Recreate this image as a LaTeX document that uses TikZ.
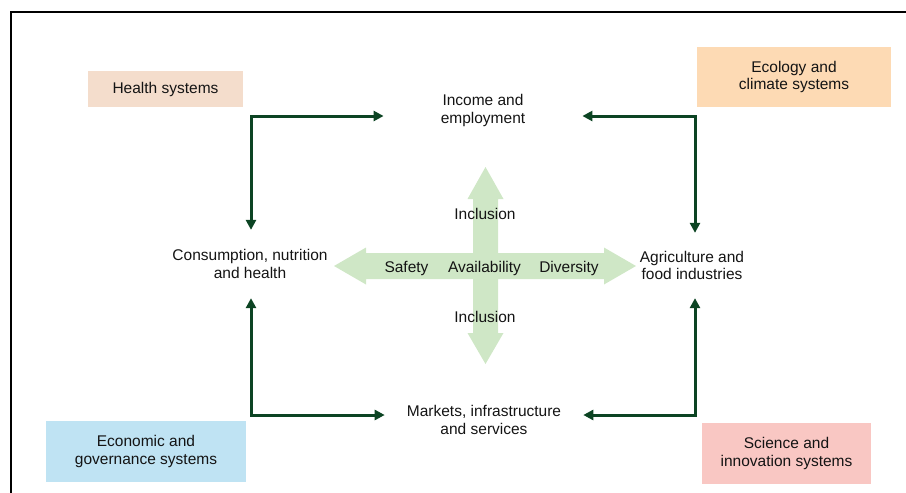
\documentclass[tikz,border=0pt]{standalone}
\usepackage{fontspec}
\setmainfont{Liberation Sans}
\usetikzlibrary{arrows.meta}

\definecolor{flowgreen}{HTML}{0C4423}
\definecolor{crossgreen}{HTML}{CFE7C6}
\definecolor{healthfill}{HTML}{F4DDCC}
\definecolor{ecofill}{HTML}{FDDAB4}
\definecolor{econfill}{HTML}{BFE3F3}
\definecolor{scifill}{HTML}{F9C7C3}
\definecolor{ink}{HTML}{141414}

\begin{document}
\begin{tikzpicture}
  [x=1pt,y=-1pt,
   every node/.style={font=\fontsize{15.5}{17.5}\selectfont,text=ink,align=center},
   sysbox/.style={inner sep=0pt},
   lbl/.style={anchor=base},
   flow/.style={draw=flowgreen,line width=3pt,line join=miter,
     {Triangle[length=10pt,width=10pt]}-{Triangle[length=10pt,width=10pt]}}]
  \useasboundingbox (0,0) rectangle (906,493);

  % frame
  \draw[line width=2.7pt] (11,493) -- (11,12) -- (906,12);

  % outer systems
  \node[sysbox,fill=healthfill,minimum width=155pt,minimum height=36pt] (H_sys) at (165.5,89) {Health systems};
  \node[sysbox,fill=ecofill,minimum width=194pt,minimum height=60pt] (E_sys) at (794,77) {Ecology and\\climate systems};
  \node[sysbox,fill=econfill,minimum width=200pt,minimum height=61pt] (G_sys) at (146,451.5) {Economic and\\governance systems};
  \node[sysbox,fill=scifill,minimum width=169pt,minimum height=61pt] (S_sys) at (786.5,453.5) {Science and\\innovation systems};

  % food system drivers
  \node[inner xsep=57pt] (income) at (483,110.5) {Income and\\employment};
  \node[inner ysep=19.5pt] (cons) at (250,264) {Consumption, nutrition\\and health};
  \node[inner ysep=18pt] (agri) at (692,265.5) {Agriculture and\\food industries};
  \node[inner xsep=22pt] (markets) at (484,420) {Markets, infrastructure\\and services};

  % central cross
  \fill[crossgreen] (334,266) -- (366,247.5) -- (366,253) -- (473,253) -- (473,199)
    -- (467.5,199) -- (485.5,167) -- (503.5,199) -- (498,199) -- (498,253)
    -- (604,253) -- (604,247.5) -- (636,266) -- (604,284.5) -- (604,279)
    -- (498,279) -- (498,333) -- (503.5,333) -- (485.5,364) -- (467.5,333)
    -- (473,333) -- (473,279) -- (366,279) -- (366,284.5) -- cycle;
  \node[lbl] (incl_up) at (485,219) {Inclusion};
  \node[lbl] (incl_dn) at (485,322) {Inclusion};
  \node[lbl] (safety) at (406.5,272) {Safety};
  \node[lbl] (avail) at (484.5,272) {Availability};
  \node[lbl] (divers) at (569,272) {Diversity};

  % corner links
  \coordinate (H_c) at (251,116);
  \coordinate (E_c) at (695,116);
  \coordinate (G_c) at (251,415);
  \coordinate (S_c) at (695,415);
  \draw[flow] (H_c -| income.west) -- (H_c) -- (H_c |- cons.north);
  \draw[flow] (E_c -| income.east) -- (E_c) -- (E_c |- agri.north);
  \draw[flow] (G_c -| markets.west) -- (G_c) -- (G_c |- cons.south);
  \draw[flow] (S_c -| markets.east) -- (S_c) -- (S_c |- agri.south);

\end{tikzpicture}
\end{document}
